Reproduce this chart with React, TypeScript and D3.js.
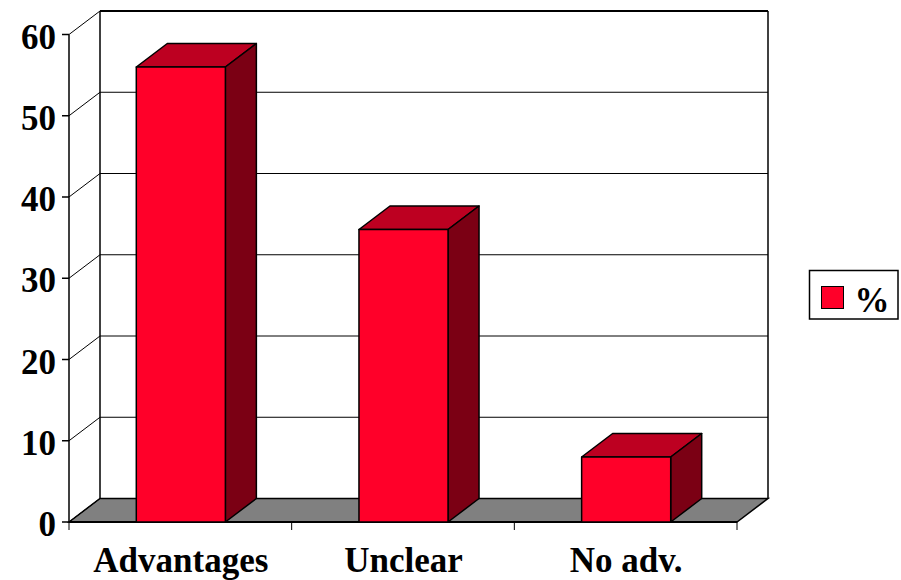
import React from "react";
import * as d3 from "d3";

const categories = ["Advantages", "Unclear", "No adv."];
const values = [56, 36, 8];
const yTicks = [0, 10, 20, 30, 40, 50, 60];
const legendLabel = "%";

const DX = 31;
const DY = -23.5;
const font = "'Liberation Serif', 'Times New Roman', serif";
const FS = 35;

export default function App() {
  const x = d3.scaleBand<string>().domain(categories).range([69.5, 737.5]).paddingInner(0.6).paddingOuter(0.3);
  const y = d3.scaleLinear().domain([0, 60]).range([522, 34.5]);
  const y0 = y(0);
  const y60 = y(60);
  const tickEdges = [69, 69 + x.step(), 69 + 2 * x.step(), 737];
  const poly = (pts: [number, number][]) => pts.map((p) => p.join(",")).join(" ");
  return (
    <svg width={901} height={580} style={{ position: "absolute", left: 0, top: 0, background: "#fff" }}>
      {/* floor */}
      <polygon points={poly([[69, y0], [69 + DX, y0 + DY], [737 + DX, y0 + DY], [737, y0]])} fill="#808080" stroke="#000" strokeWidth={1.5} />
      {/* walls */}
      <line x1={69} y1={y60} x2={69} y2={y0} stroke="#000" strokeWidth={1.5} />
      <line x1={69 + DX} y1={y60 + DY} x2={69 + DX} y2={y0 + DY} stroke="#000" strokeWidth={1.5} />
      <line x1={737 + DX} y1={y60 + DY} x2={737 + DX} y2={y0 + DY} stroke="#000" strokeWidth={1.5} />
      {yTicks.map((t) => (
        <g key={t}>
          {t > 0 && <line x1={69 + DX} x2={737 + DX} y1={y(t) + DY} y2={y(t) + DY} stroke="#000" strokeWidth={t === 60 ? 2 : 1} />}
          <line x1={69} x2={69 + DX} y1={y(t)} y2={y(t) + DY} stroke="#000" strokeWidth={1} />
          <line x1={62} x2={69} y1={y(t)} y2={y(t)} stroke="#000" strokeWidth={1.5} />
          <text x={56} y={y(t) + 14} textAnchor="end" fontFamily={font} fontWeight="bold" fontSize={FS} fill="#000">{t}</text>
        </g>
      ))}
      {/* front floor edge */}
      <line x1={69} x2={737} y1={y0} y2={y0} stroke="#000" strokeWidth={2} />
      {tickEdges.map((e) => (
        <line key={e} x1={e} x2={e} y1={y0} y2={y0 + 8} stroke="#000" strokeWidth={1} />
      ))}
      {/* bars */}
      {categories.map((c, i) => {
        const l = x(c)!;
        const r = l + x.bandwidth();
        const t = y(values[i]);
        return (
          <g key={c} stroke="#000" strokeWidth={1.5} strokeLinejoin="round">
            <polygon points={poly([[l, t], [l + DX, t + DY], [r + DX, t + DY], [r, t]])} fill="#bd0021" />
            <polygon points={poly([[r, t], [r + DX, t + DY], [r + DX, y0 + DY], [r, y0]])} fill="#7b0014" />
            <rect x={l} y={t} width={x.bandwidth()} height={y0 - t} fill="#ff0029" />
          </g>
        );
      })}
      {/* category labels */}
      {categories.map((c) => (
        <text key={c} x={x(c)! + x.bandwidth() / 2} y={572} textAnchor="middle" fontFamily={font} fontWeight="bold" fontSize={FS} fill="#000">{c}</text>
      ))}
      {/* legend */}
      <rect x={809.5} y={270.5} width={88.5} height={48.5} fill="#fff" stroke="#000" strokeWidth={1.5} />
      <rect x={821.5} y={286.5} width={22} height={22} fill="#ff0029" stroke="#000" strokeWidth={1} />
      <text x={872} y={312} textAnchor="middle" fontFamily={font} fontWeight="bold" fontSize={FS} fill="#000">{legendLabel}</text>
    </svg>
  );
}
